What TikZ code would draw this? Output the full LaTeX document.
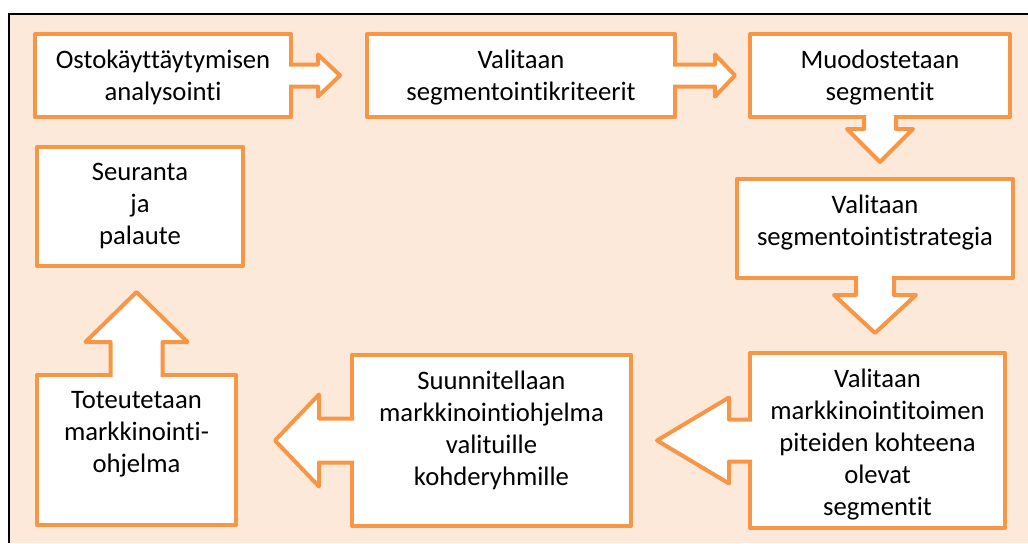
\documentclass[tikz,border=0pt]{standalone}
\usepackage{fontspec}
\setmainfont{Carlito}[Ligatures=NoCommon]
\usetikzlibrary{positioning}
\definecolor{boxorange}{HTML}{F79646}
\definecolor{peach}{HTML}{FDE9D9}
\tikzset{
  stepbox/.style={draw=boxorange, fill=white, line width=3pt, outer sep=0pt, inner sep=0pt, line join=round, anchor=north west},
  boxtext/.style={align=center, inner sep=0pt, font=\fontsize{20}{24}\selectfont, execute at begin node=\strut},
  blockline/.style={draw=boxorange, line width=3pt, line join=round},
}
% block arrow: anchor, rotation, stem half width, stem length, head half width, head length
\newcommand{\blockarrow}[6]{%
  \begin{scope}[shift={(#1)}, rotate=#2]
    \fill[white] (-3,-#3) -- (#4,-#3) -- (#4,-#5) -- ({#4+#6},0) -- (#4,#5) -- (#4,#3) -- (-3,#3) -- cycle;
    \draw[blockline] (-2,-#3) -- (#4,-#3) -- (#4,-#5) -- ({#4+#6},0) -- (#4,#5) -- (#4,#3) -- (-2,#3);
  \end{scope}}

\begin{document}
\begin{tikzpicture}[x=0.75pt, y=-0.75pt]
    \useasboundingbox (0,0) rectangle (1028,543);
    % Background
    \fill[peach] (9,14) rectangle (1028,543);
    \draw[line width=1.5pt] (9,543) -- (9,14) -- (1028,14);

    % Boxes
    \node[stepbox, minimum width=192pt, minimum height=62.25pt] (analyysi) at (35,34) {};
    \node[stepbox, minimum width=231pt, minimum height=62.25pt] (kriteerit) at (367,34) {};
    \node[stepbox, minimum width=195pt, minimum height=62.25pt] (segmentit) at (750,34) {};
    \node[stepbox, minimum width=207pt, minimum height=74.25pt] (strategia) at (737,179) {};
    \node[stepbox, minimum width=191.25pt, minimum height=131.25pt] (kohteet) at (750,353) {};
    \node[stepbox, minimum width=209.25pt, minimum height=128.25pt] (suunnittelu) at (352,355) {};
    \node[stepbox, minimum width=149.25pt, minimum height=112.5pt] (toteutus) at (37,375) {};
    \node[stepbox, minimum width=154.5pt, minimum height=89.25pt] (seuranta) at (37,147) {};

    % Arrows
    \blockarrow{analyysi.east}{0}{11}{27}{21}{22}
    \blockarrow{kriteerit.east}{0}{11}{40}{21}{20}
    \blockarrow{segmentit.south}{-90}{16}{12}{33}{33}
    \blockarrow{strategia.south}{-90}{19}{17}{41}{38}
    \blockarrow{kohteet.west}{180}{21}{21}{43}{72}
    \blockarrow{suunnittelu.west}{180}{22}{33}{46}{44}
    \blockarrow{toteutus.north}{90}{26}{33}{51}{50}

    % Labels
    \node[boxtext, below=12pt of analyysi.north] (t1) {Ostokäyttäytymisen\\analysointi};
    \node[boxtext, below=12pt of kriteerit.north] (t2) {Valitaan\\segmentointikriteerit};
    \node[boxtext, below=12pt of segmentit.north] (t3) {Muodostetaan\\segmentit};
    \node[boxtext, below=12pt of strategia.north] (t4) {Valitaan\\segmentointistrategia};
    \node[boxtext, below=12pt of kohteet.north] (t5) {Valitaan\\markkinointitoimen\\piteiden kohteena\\olevat\\segmentit};
    \node[boxtext, below=12pt of suunnittelu.north] (t6) {Suunnitellaan\\markkinointiohjelma\\valituille\\kohderyhmille};
    \node[boxtext, below=12pt of toteutus.north] (t7) {Toteutetaan\\markkinointi-\\ohjelma};
    \node[boxtext, below=12pt of seuranta.north] (t8) {Seuranta\\ja\\palaute};
\end{tikzpicture}
\end{document}
